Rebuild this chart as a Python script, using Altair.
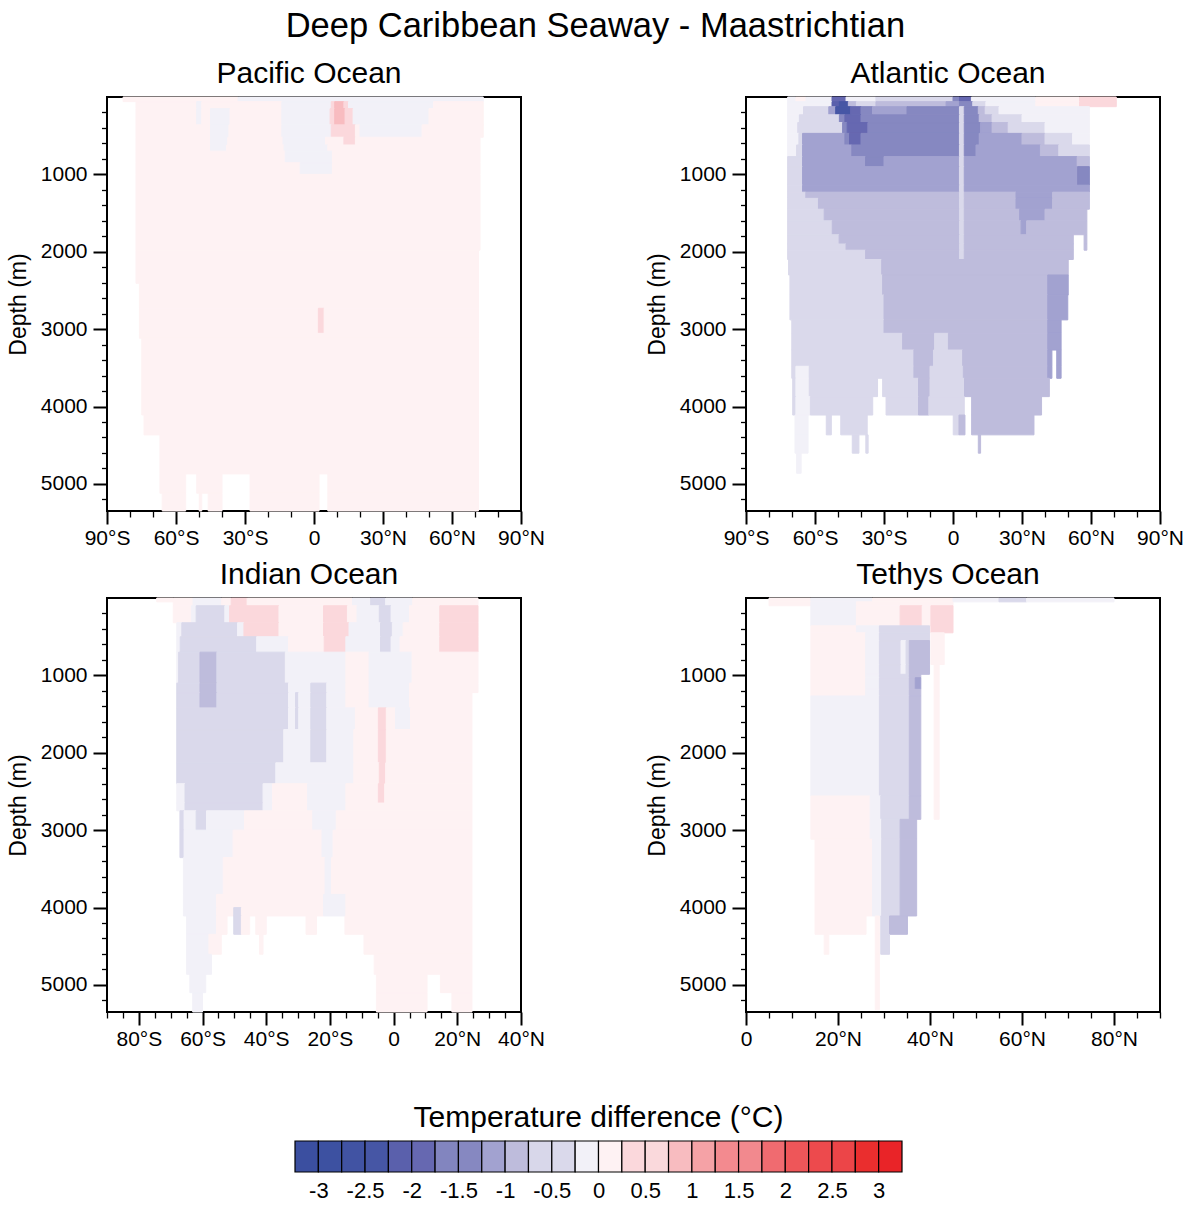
import altair as alt
import pandas as pd

FONT = "Liberation Sans"

# Shading classes (°C): threshold boundaries and one colour per class
LEVELS = [-3, -2.75, -2.5, -2.25, -2, -1.75, -1.5, -1.25, -1, -0.75, -0.5, -0.25,
          0, 0.25, 0.5, 0.75, 1, 1.25, 1.5, 1.75, 2, 2.25, 2.5, 2.75, 3]
COLORS = ["#3B4FA0", "#3D51A1", "#4153A3", "#4656A5", "#5A60AC", "#6668B1",
          "#8285BF", "#8688C1", "#A2A2D0", "#BEBCDC", "#D8D7EA", "#DAD9EB",
          "#F2F1F8", "#FEF2F3", "#FBD8DC", "#FAD9DC", "#F8BCC0", "#F5A2A6",
          "#F38A8F", "#F2898E", "#F06B70", "#EE5659", "#ED4A4D", "#EC4548",
          "#EA2E2E", "#E92428"]

# Colour-bar box edges
BAR_EDGES = [-3.25, -3, -2.75, -2.5, -2.25, -2, -1.75, -1.5, -1.25, -1, -0.75, -0.5,
             -0.25, 0, 0.25, 0.5, 0.75, 1, 1.25, 1.5, 1.75, 2, 2.25, 2.5, 2.75, 3, 3.25]
BAR_LABELS = [-3, -2.5, -2, -1.5, -1, -0.5, 0, 0.5, 1, 1.5, 2, 2.5, 3]

# Axis ticks
DEPTH_MAJOR = [1000, 2000, 3000, 4000, 5000]
DEPTH_MINOR = [200, 400, 600, 800, 1200, 1400, 1600, 1800, 2200, 2400, 2600, 2800,
               3200, 3400, 3600, 3800, 4200, 4400, 4600, 4800, 5200]
GLOBAL_MAJOR = [-90, -60, -30, 0, 30, 60, 90]
GLOBAL_MINOR = [-80, -70, -50, -40, -20, -10, 10, 20, 40, 50, 70, 80]
INDIAN_MAJOR = [-80, -60, -40, -20, 0, 20, 40]
INDIAN_MINOR = [-90, -85, -75, -70, -65, -55, -50, -45, -35, -30, -25, -15, -10, -5,
                5, 10, 15, 25, 30, 35]
TETHYS_MAJOR = [0, 20, 40, 60, 80]
TETHYS_MINOR = [5, 10, 15, 25, 30, 35, 45, 50, 55, 65, 70, 75, 85, 90]

# Zonal-mean temperature difference, one entry per depth band:
# (top depth m, bottom depth m, [(lat start, lat end, difference °C), ...])
PACIFIC = [
    (0, 60, [(-83, -33, 0.1), (-33, 73.6, -0.1)]),
    (60, 150, [(-77.4, -51, 0.1), (-51, -48.8, -0.1), (-48.8, -14, 0.1), (-14, 7.5, -0.1),
               (7.5, 9, 0.4), (9, 13, 0.9), (13, 15, 0.4), (15, 52, -0.1), (52, 73.6, 0.1)]),
    (150, 360, [(-77.4, -51, 0.1), (-51, -48.8, -0.1), (-48.8, -45, 0.1), (-45, -36.5, -0.1),
                (-36.5, -14, 0.1), (-14, 7, -0.1), (7, 9, 0.4), (9, 13.5, 0.9), (13.5, 17, 0.4),
                (17, 50, -0.1), (50, 73.6, 0.1)]),
    (360, 520, [(-77.4, -45, 0.1), (-45, -37, -0.1), (-37, -14, 0.1), (-14, 7.5, -0.1),
                (7.5, 18, 0.4), (18, 20, 0.1), (20, 47, -0.1), (47, 73.6, 0.1)]),
    (520, 620, [(-77.4, -45, 0.1), (-45, -37.5, -0.1), (-37.5, -13.5, 0.1), (-13.5, 5, -0.1),
                (5, 13, 0.1), (13, 18, 0.4), (18, 72.2, 0.1)]),
    (620, 700, [(-77.4, -45, 0.1), (-45, -38, -0.1), (-38, -13, 0.1), (-13, 6, -0.1),
                (6, 72.2, 0.1)]),
    (700, 850, [(-77.4, -12.5, 0.1), (-12.5, 8, -0.1), (8, 72.2, 0.1)]),
    (850, 1000, [(-77.4, -6, 0.1), (-6, 8, -0.1), (8, 72.2, 0.1)]),
    (1000, 1980, [(-77.4, 72.2, 0.1)]),
    (1980, 2408, [(-77.4, 71.5, 0.1)]),
    (2408, 2730, [(-75.9, 71.5, 0.1)]),
    (2730, 3054, [(-75.9, 1.9, 0.1), (1.9, 4.4, 0.4), (4.4, 71.5, 0.1)]),
    (3054, 3118, [(-75.9, 71.5, 0.1)]),
    (3118, 4109, [(-74.9, 71.5, 0.1)]),
    (4109, 4367, [(-73.9, 71.5, 0.1)]),
    (4367, 4871, [(-67, 71.5, 0.1)]),
    (4871, 5121, [(-67, -55.8, 0.1), (-51, -40, 0.1), (-27.8, 2.2, 0.1), (6, 71.5, 0.1)]),
    (5121, 5350, [(-66, -55.8, 0.1), (-49.9, -48.8, 0.1), (-46, -40, 0.1), (-27.8, 2.2, 0.1),
                  (6, 71.5, 0.1)]),
]

ATLANTIC = [
    (0, 60, [(-71.9, -68.3, -0.1), (-68.3, -63.9, 0.1), (-63.9, -52.6, -0.1), (-52.6, -46.5, -1.9),
             (-46.5, -33.5, -0.1), (-33.5, 0, -0.4), (0, 2.8, -1.4), (2.8, 8, -1.9),
             (8, 36, -0.1), (36, 55, 0.1), (55, 71, 0.4)]),
    (60, 125, [(-71.9, -52.6, -0.1), (-52.6, -49.4, -2.1), (-49.4, -45.5, -2.4), (-45.5, -42, -0.9),
               (-42, -33.5, -0.4), (-33.5, -3, -0.9), (-3, 2.8, -1.1), (2.8, 8.6, -1.4),
               (8.6, 14.3, -0.4), (14.3, 36, -0.1), (36, 55, 0.1), (55, 71, 0.4)]),
    (125, 230, [(-71.9, -65, -0.1), (-65, -54, -0.4), (-54, -51, -1.1), (-51, -44.5, -2.4),
                (-44.5, -40, -1.9), (-40, -35, -1.4), (-35, -20, -1.1), (-20, 2.8, -1.4),
                (2.8, 4.9, -0.4), (4.9, 11, -1.4), (11, 14, -0.9), (14, 20, -0.4), (20, 59.3, -0.1)]),
    (230, 330, [(-71.9, -66.8, -0.1), (-66.8, -49.4, -0.4), (-49.4, -47, -1.4), (-47, -40, -1.9),
                (-40, 2.8, -1.4), (2.8, 4.9, -0.4), (4.9, 11.4, -1.4), (11.4, 17, -0.9),
                (17, 30, -0.4), (30, 59.3, -0.1)]),
    (330, 470, [(-71.9, -67.5, -0.1), (-67.5, -48, -0.4), (-48, -46, -1.4), (-46, -37, -1.9),
                (-37, 2.8, -1.4), (2.8, 4.9, -0.4), (4.9, 12, -1.4), (12, 17, -1.1),
                (17, 24, -0.9), (24, 40, -0.4), (40, 59.3, -0.1)]),
    (470, 620, [(-71.9, -67, -0.1), (-67, -65.4, -0.4), (-65.4, -47, -1.1), (-47, -45, -1.4),
                (-45, -40, -1.9), (-40, 2.8, -1.4), (2.8, 4.9, -0.4), (4.9, 11.4, -1.4),
                (11.4, 30, -1.1), (30, 40, -0.9), (40, 52, -0.4), (52, 59.3, -0.1)]),
    (620, 770, [(-71.9, -68, -0.1), (-68, -65.4, -0.4), (-65.4, -44, -1.1), (-44, 2.8, -1.4),
                (2.8, 4.9, -0.4), (4.9, 10, -1.4), (10, 38, -1.1), (38, 46, -0.9), (46, 59.3, -0.4)]),
    (770, 900, [(-71.9, -65.4, -0.4), (-65.4, -38, -1.1), (-38, -30, -1.4), (-30, 2.8, -1.1),
                (2.8, 4.9, -0.4), (4.9, 54, -1.1), (54, 59.3, -0.9)]),
    (900, 1140, [(-71.9, -65.4, -0.4), (-65.4, 2.8, -1.1), (2.8, 4.9, -0.4), (4.9, 54.2, -1.1),
                 (54.2, 59.3, -1.4)]),
    (1140, 1230, [(-71.9, -65.4, -0.4), (-65.4, 2.8, -1.1), (2.8, 4.9, -0.4), (4.9, 59.3, -1.1)]),
    (1230, 1310, [(-71.9, -64, -0.4), (-64, 2.8, -0.9), (2.8, 4.9, -0.4), (4.9, 27.4, -0.9),
                  (27.4, 43.3, -1.1), (43.3, 59.3, -0.9)]),
    (1310, 1450, [(-71.9, -58.5, -0.4), (-58.5, 2.8, -0.9), (2.8, 4.9, -0.4), (4.9, 27.4, -0.9),
                  (27.4, 43.3, -1.1), (43.3, 59.3, -0.9)]),
    (1450, 1600, [(-71.9, -56, -0.4), (-56, 2.8, -0.9), (2.8, 4.9, -0.4), (4.9, 29, -0.9),
                  (29, 40, -1.1), (40, 58.2, -0.9)]),
    (1600, 1780, [(-71.9, -52.5, -0.4), (-52.5, 2.8, -0.9), (2.8, 4.9, -0.4), (4.9, 29.6, -0.9),
                  (29.6, 32, -1.1), (32, 58.2, -0.9)]),
    (1780, 1900, [(-71.9, -49.5, -0.4), (-49.5, 2.8, -0.9), (2.8, 4.9, -0.4), (4.9, 52.3, -0.9),
                  (57, 58.2, -0.9)]),
    (1900, 1980, [(-71.9, -46.5, -0.4), (-46.5, 2.8, -0.9), (2.8, 4.9, -0.4), (4.9, 52.3, -0.9),
                  (57, 58.2, -0.9)]),
    (1980, 2100, [(-71.9, -38, -0.4), (-38, 2.8, -0.9), (2.8, 4.9, -0.4), (4.9, 52.3, -0.9)]),
    (2100, 2300, [(-71.5, -31, -0.4), (-31, 50.1, -0.9)]),
    (2300, 2560, [(-70.9, -30.6, -0.4), (-30.6, 41.2, -0.9), (41.2, 50.1, -1.1)]),
    (2560, 2880, [(-70.9, -30, -0.4), (-30, 41.2, -0.9), (41.2, 49.9, -1.1)]),
    (2880, 3054, [(-70.1, -30, -0.4), (-30, 41.2, -0.9), (41.2, 47, -1.1)]),
    (3054, 3270, [(-70.1, -21.9, -0.4), (-21.9, -8, -0.9), (-8, -2, -0.4), (-2, 41.2, -0.9),
                  (41.2, 47, -1.1)]),
    (3270, 3480, [(-70.1, -17, -0.4), (-17, -8.5, -0.9), (-8.5, 4.2, -0.4), (4.2, 41.2, -0.9),
                  (41.2, 43, -1.1), (45.1, 47, -1.1)]),
    (3480, 3635, [(-70.1, -68.3, -0.4), (-68.3, -62.5, -0.1), (-62.5, -17, -0.4), (-17, -10, -0.9),
                  (-10, 4.5, -0.4), (4.5, 41.2, -0.9), (41.2, 43, -1.1), (45.1, 47, -1.1)]),
    (3635, 3872, [(-69.7, -68.3, -0.4), (-68.3, -62.5, -0.1), (-62.5, -32.8, -0.4), (-30.6, -15, -0.4),
                  (-15, -10, -0.9), (-10, 5, -0.4), (5, 41.9, -0.9)]),
    (3872, 4110, [(-69.7, -68.3, -0.4), (-68.3, -62, -0.1), (-62, -34.9, -0.4), (-29.1, -15, -0.4),
                  (-15, -10.5, -0.9), (-10.5, 4.9, -0.4), (8.1, 38.5, -0.9)]),
    (4110, 4366, [(-68.7, -63, -0.1), (-55.1, -52.9, -0.4), (-48.8, -37.3, -0.4), (0.1, 2.6, -0.4),
                  (2.6, 5.2, -0.9), (8.1, 35.2, -0.9)]),
    (4366, 4603, [(-68.7, -63, -0.1), (-43.8, -40.9, -0.4), (-37.9, -36.9, -0.4), (11, 12, -0.9)]),
    (4603, 4862, [(-68, -66, -0.1)]),
]

INDIAN = [
    (0, 50, [(-74.4, -69.2, 0.1)]),
    (0, 100, [(-69.2, -63, 0.1), (-63, -54, -0.1), (-54, -51, 0.1), (-51, -46, 0.4),
              (-46, -12.9, 0.1), (-12.9, -7.2, -0.1), (-7.2, -2.5, -0.4), (-2.5, 6, -0.1),
              (6, 26.5, 0.1)]),
    (100, 320, [(-69.2, -63.5, 0.1), (-63.5, -62, -0.1), (-62, -53, -0.4), (-53, -51.5, -0.1),
                (-51.5, -36, 0.4), (-36, -22, 0.1), (-22, -14.5, 0.4), (-14.5, -11.5, 0.1),
                (-11.5, -4.5, -0.1), (-4.5, -0.8, -0.4), (-0.8, 5, -0.1), (5, 14.5, 0.1),
                (14.5, 26.5, 0.4)]),
    (320, 500, [(-68.1, -66.5, -0.1), (-66.5, -49, -0.4), (-49, -47, -0.1), (-47, -36, 0.4),
                (-36, -22, 0.1), (-22, -14, 0.4), (-14, -4.1, -0.1), (-4.1, -0.4, -0.4),
                (-0.4, 3, -0.1), (3, 14.5, 0.1), (14.5, 26.5, 0.4)]),
    (500, 700, [(-68.1, -67, -0.1), (-67, -43, -0.4), (-43, -33, -0.1), (-33, -21.8, 0.1),
                (-21.8, -15, 0.4), (-15, -4.1, -0.1), (-4.1, -0.8, -0.4), (-0.8, 2, -0.1),
                (2, 14.5, 0.1), (14.5, 26.5, 0.4)]),
    (700, 1100, [(-68.1, -67.5, -0.1), (-67.5, -60.8, -0.4), (-60.8, -55.5, -0.9), (-55.5, -34, -0.4),
                 (-34, -15, -0.1), (-15, -7.7, 0.1), (-7.7, 5.8, -0.1), (5.8, 26.5, 0.1)]),
    (1100, 1223, [(-68.1, -60.8, -0.4), (-60.8, -55.5, -0.9), (-55.5, -33, -0.4), (-33, -26, -0.1),
                  (-26, -21, -0.4), (-21, -15, -0.1), (-15, -7.7, 0.1), (-7.7, 5, -0.1),
                  (5, 26.5, 0.1)]),
    (1223, 1420, [(-68.1, -60.8, -0.4), (-60.8, -55.5, -0.9), (-55.5, -33, -0.4), (-33, -30.8, -0.1),
                  (-30.8, -29.8, -0.4), (-29.8, -26, -0.1), (-26, -21, -0.4), (-21, -15, -0.1),
                  (-15, -7.7, 0.1), (-7.7, 5, -0.1), (5, 24.6, 0.1)]),
    (1420, 1700, [(-68.1, -33, -0.4), (-33, -30.8, -0.1), (-30.8, -29.8, -0.4), (-29.8, -26, -0.1),
                  (-26, -21, -0.4), (-21, -12, -0.1), (-12, -4.8, 0.1), (-4.8, -2.3, 0.4),
                  (-2.3, 0.6, 0.1), (0.6, 5.3, -0.1), (5.3, 24.6, 0.1)]),
    (1700, 2130, [(-68.1, -34.5, -0.4), (-34.5, -26, -0.1), (-26, -21, -0.4), (-21, -12.5, -0.1),
                  (-12.5, -4.8, 0.1), (-4.8, -2.3, 0.4), (-2.3, 24.6, 0.1)]),
    (2130, 2400, [(-68.1, -37, -0.4), (-37, -12.5, -0.1), (-12.5, -4.5, 0.1), (-4.5, -2.5, 0.4),
                  (-2.5, 24.6, 0.1)]),
    (2400, 2650, [(-68.1, -65.5, -0.1), (-65.5, -41, -0.4), (-41, -38, -0.1), (-38, -27, 0.1),
                  (-27, -15, -0.1), (-15, -4.8, 0.1), (-4.8, -2.8, 0.4), (-2.8, 24.6, 0.1)]),
    (2650, 2750, [(-68.1, -65.5, -0.1), (-65.5, -41, -0.4), (-41, -38, -0.1), (-38, -27, 0.1),
                  (-27, -15, -0.1), (-15, 24.6, 0.1)]),
    (2750, 3000, [(-67.1, -65.8, -0.4), (-65.8, -62, -0.1), (-62, -58.75, -0.4), (-58.75, -46.8, -0.1),
                  (-46.8, -25.4, 0.1), (-25.4, -18, -0.1), (-18, 24.6, 0.1)]),
    (3000, 3355, [(-67.1, -65.8, -0.4), (-65.8, -50.4, -0.1), (-50.4, -22.5, 0.1), (-22.5, -19, -0.1),
                  (-19, 24.6, 0.1)]),
    (3355, 3830, [(-66, -53.5, -0.1), (-53.5, -21.5, 0.1), (-21.5, -19.5, -0.1), (-19.5, 24.6, 0.1)]),
    (3830, 4001, [(-66, -55.6, -0.1), (-55.6, -22, 0.1), (-22, -15, -0.1), (-15, 24.6, 0.1)]),
    (4001, 4109, [(-66, -55.6, -0.1), (-55.6, -50.2, 0.1), (-50.2, -47.8, -0.4), (-47.8, -22, 0.1),
                  (-22, -15, -0.1), (-15, 24.6, 0.1)]),
    (4109, 4346, [(-65, -55.6, -0.1), (-55.6, -52.3, 0.1), (-50.2, -47.8, -0.4), (-47.8, -45.2, 0.1),
                  (-43.3, -40, 0.1), (-27.5, -24.2, 0.1), (-15.3, 24.6, 0.1)]),
    (4346, 4604, [(-65, -58, -0.1), (-58, -54.1, 0.1), (-42.1, -41, 0.1), (-9.3, 24.6, 0.1)]),
    (4604, 4863, [(-65, -57.2, -0.1), (-6.1, 24.6, 0.1)]),
    (4863, 5100, [(-64, -59, -0.1), (-5.4, 10.5, 0.1), (14.7, 24.6, 0.1)]),
    (5100, 5350, [(-63.1, -60, -0.1), (-5.4, 10.5, 0.1), (18.3, 24.6, 0.1)]),
]

TETHYS = [
    (0, 50, [(5, 14.1, 0.1), (14.1, 27.5, -0.1), (27.5, 45, 0.1), (45, 55, -0.1), (55, 61, -0.4),
             (61, 80, -0.1)]),
    (50, 100, [(5, 14.1, 0.1), (14.1, 24, -0.1), (24, 45, 0.1)]),
    (100, 360, [(14.1, 24, -0.1), (24, 33.5, 0.1), (33.5, 38.3, 0.4), (38.3, 40.2, 0.1),
                (40.2, 45, 0.4)]),
    (360, 450, [(14.1, 24, 0.1), (24, 29, -0.1), (29, 39.9, -0.4), (40.2, 45, 0.4)]),
    (450, 550, [(14.1, 26, 0.1), (26, 29, -0.1), (29, 39.9, -0.4), (40.2, 43.1, 0.1)]),
    (550, 860, [(14.1, 26, 0.1), (26, 29, -0.1), (29, 33.7, -0.4), (33.7, 34.8, -0.1),
                (34.8, 35.5, -0.4), (35.5, 39.9, -0.9), (40.2, 43.1, 0.1)]),
    (860, 986, [(14.1, 26, 0.1), (26, 29, -0.1), (29, 33.7, -0.4), (33.7, 34.8, -0.1),
                (34.8, 35.5, -0.4), (35.5, 39.9, -0.9), (40.9, 42, 0.1)]),
    (986, 1030, [(14.1, 26, 0.1), (26, 29, -0.1), (29, 35.5, -0.4), (35.5, 38, -0.9), (40.9, 42, 0.1)]),
    (1030, 1180, [(14.1, 26, 0.1), (26, 29, -0.1), (29, 35.5, -0.4), (35.5, 36.8, -0.9),
                  (36.8, 38, -1.1), (40.9, 42, 0.1)]),
    (1180, 1266, [(14.1, 26, 0.1), (26, 29, -0.1), (29, 35.5, -0.4), (35.5, 38, -0.9), (40.9, 42, 0.1)]),
    (1266, 2558, [(14.1, 29, -0.1), (29, 35.5, -0.4), (35.5, 38, -0.9), (40.9, 42, 0.1)]),
    (2558, 2860, [(14.1, 27, 0.1), (27, 29.3, -0.1), (29.3, 35.5, -0.4), (35.5, 38, -0.9),
                  (40.9, 42, 0.1)]),
    (2860, 3118, [(14.1, 27, 0.1), (27, 29.5, -0.1), (29.5, 33.5, -0.4), (33.5, 37.1, -0.9)]),
    (3118, 4109, [(15, 27.5, 0.1), (27.5, 29.5, -0.1), (29.5, 33.5, -0.4), (33.5, 37.1, -0.9)]),
    (4109, 4346, [(15, 26.1, 0.1), (28.1, 29, 0.1), (29.3, 31.2, -0.4), (31.2, 35.1, -0.9)]),
    (4346, 4604, [(17, 18, 0.1), (28.1, 29, 0.1), (29.3, 31.2, -0.4)]),
    (4604, 5320, [(28.1, 29, 0.1)]),
]

DEPTH_MAX = 5350
PANEL = 414

# Colour-bar strip: drawn across a wide view (left edge lined up with the left panels)
# so that the boxes sit centred on the page
BAR_PX_PER_UNIT = 607 / 6.5
BAR_VIEW_LEFT = 107      # page x of the strip view's left edge
BAR_BOX_LEFT = 295       # page x of the first box
BAR_WIDTH = 1050
bar_lo = BAR_EDGES[0] - (BAR_BOX_LEFT - BAR_VIEW_LEFT) / BAR_PX_PER_UNIT
bar_hi = bar_lo + BAR_WIDTH / BAR_PX_PER_UNIT
bar_title_dx = (BAR_BOX_LEFT + 607 / 2) - (BAR_VIEW_LEFT + BAR_WIDTH / 2)

color_scale = alt.Scale(type="threshold", domain=LEVELS, range=COLORS)
LAT_LABEL = "datum.value == 0 ? '0' : (abs(datum.value) + '°' + (datum.value < 0 ? 'S' : 'N'))"


def to_frame(rows):
    recs = []
    for d0, d1, runs in rows:
        for a, b, v in runs:
            recs.append({"lat0": a, "lat1": b, "d0": d0, "d1": d1, "val": v})
    return pd.DataFrame(recs)


def panel(rows, title, xdomain, xmajor, xminor):
    df = to_frame(rows)
    xs = alt.Scale(domain=xdomain, nice=False, zero=False)
    ys = alt.Scale(domain=[0, DEPTH_MAX], reverse=True, nice=False, zero=False)

    x_major = alt.Axis(values=xmajor, labelExpr=LAT_LABEL, orient="bottom", title=None,
                       domain=False, grid=False, tickSize=13, tickWidth=2, tickColor="black",
                       labelFont=FONT, labelFontSize=21, labelColor="black", labelPadding=3,
                       labelFlush=False, labelOverlap=False)
    y_major = alt.Axis(values=DEPTH_MAJOR, format="d", orient="left", title="Depth (m)",
                       domain=False, grid=False, tickSize=14, tickWidth=2, tickColor="black",
                       labelFont=FONT, labelFontSize=21, labelColor="black", labelPadding=6,
                       titleFont=FONT, titleFontSize=23, titleFontWeight="normal",
                       titleColor="black", titlePadding=10, labelOverlap=False)
    x_minor = alt.Axis(values=xminor, labels=False, orient="bottom", title=None, domain=False,
                       grid=False, tickSize=6, tickWidth=1.3, tickColor="black")
    y_minor = alt.Axis(values=DEPTH_MINOR, labels=False, orient="left", title=None, domain=False,
                       grid=False, tickSize=5.5, tickWidth=1.3, tickColor="black")

    # each cell is outlined in its own fill colour so neighbouring bands join without seams
    cells = alt.Chart(df).mark_rect(strokeWidth=1).encode(
        x=alt.X("lat0:Q", scale=xs, axis=x_major),
        x2="lat1:Q",
        y=alt.Y("d0:Q", scale=ys, axis=y_major),
        y2="d1:Q",
        color=alt.Color("val:Q", scale=color_scale, legend=None),
        stroke=alt.Stroke("val:Q", scale=color_scale, legend=None),
    )
    minor = alt.Chart(df).mark_rect(opacity=0).encode(
        x=alt.X("lat0:Q", scale=xs, axis=x_minor),
        x2="lat1:Q",
        y=alt.Y("d0:Q", scale=ys, axis=y_minor),
        y2="d1:Q",
    )
    return alt.layer(cells, minor).resolve_axis(x="independent", y="independent").properties(
        width=PANEL, height=PANEL,
        title=alt.TitleParams(title, font=FONT, fontSize=30, fontWeight="normal", color="black",
                              anchor="middle", frame="group", offset=8, dx=-5),
    )


pac = panel(PACIFIC, "Pacific Ocean", [-90, 90], GLOBAL_MAJOR, GLOBAL_MINOR)
atl = panel(ATLANTIC, "Atlantic Ocean", [-90, 90], GLOBAL_MAJOR, GLOBAL_MINOR)
ind = panel(INDIAN, "Indian Ocean", [-90, 40], INDIAN_MAJOR, INDIAN_MINOR)
tet = panel(TETHYS, "Tethys Ocean", [0, 90], TETHYS_MAJOR, TETHYS_MINOR)

# Colour bar
bar_df = pd.DataFrame({
    "lo": BAR_EDGES[:-1],
    "hi": BAR_EDGES[1:],
})
bar_df["mid"] = (bar_df["lo"] + bar_df["hi"]) / 2

colorbar = alt.Chart(bar_df).mark_rect(stroke="black", strokeWidth=1.2).encode(
    x=alt.X("lo:Q", scale=alt.Scale(domain=[bar_lo, bar_hi], nice=False, zero=False),
            axis=alt.Axis(values=BAR_LABELS, labelExpr="'' + datum.value", title=None,
                          domain=False, ticks=False, grid=False, labelFont=FONT,
                          labelFontSize=22, labelColor="black", labelPadding=8,
                          labelFlush=False, labelOverlap=False)),
    x2="hi:Q",
    color=alt.Color("mid:Q", scale=color_scale, legend=None),
).properties(
    width=BAR_WIDTH, height=31,
    view=alt.ViewBackground(strokeOpacity=0),
    title=alt.TitleParams("Temperature difference (°C)", font=FONT, fontSize=30,
                          fontWeight="normal", color="black", anchor="middle",
                          frame="group", offset=7, dx=bar_title_dx),
)

grid = alt.vconcat(
    alt.hconcat(pac, atl, spacing=99),
    alt.hconcat(ind, tet, spacing=99),
    spacing=9,
)

chart = alt.vconcat(grid, colorbar, spacing=53).properties(
    title=alt.TitleParams("Deep Caribbean Seaway - Maastrichtian", font=FONT, fontSize=34.5,
                          fontWeight="normal", color="black", anchor="middle", offset=13.5),
    padding={"left": 6, "top": 8, "right": 5, "bottom": 5},
    background="white",
).configure_view(stroke="black", strokeWidth=2)

chart.save("out.html", embed_options={"renderer": "svg", "actions": False})
